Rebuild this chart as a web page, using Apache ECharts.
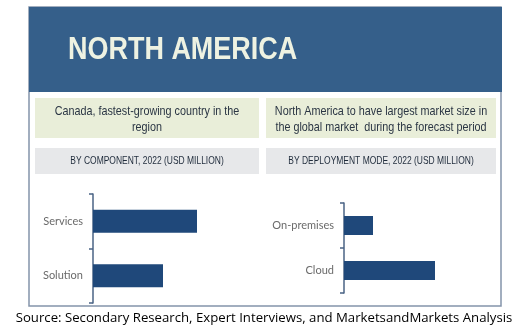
<!DOCTYPE html>
<html><head><meta charset="utf-8">
<script src="https://cdn.jsdelivr.net/npm/echarts@6/dist/echarts.min.js"></script>
<style>html,body{margin:0;padding:0;background:#fff}#c{width:520px;height:330px}</style>
</head><body><div id="c"></div>
<script>
const title = 'NORTH AMERICA';
const noteLeft = 'Canada, fastest-growing country in the\nregion';
const noteRight = 'North America to have largest market size in\nthe global market  during the forecast period';
const headLeft = 'BY COMPONENT, 2022 (USD MILLION)';
const headRight = 'BY DEPLOYMENT MODE, 2022 (USD MILLION)';
const componentCats = ['Services', 'Solution'];
const componentVals = [41.6, 28];
const deployCats = ['On-premises', 'Cloud'];
const deployVals = [11.6, 36.4];
const source = 'Source: Secondary Research, Expert Interviews, and MarketsandMarkets Analysis';

const chart = echarts.init(document.getElementById('c'), null, {renderer:'canvas'});
const sans = '"Liberation Sans", Arial, sans-serif';
const axisCol = '#4a6385';
const barCol = '#1f487a';
function yAx(idx, cats){
  return {type:'category', gridIndex:idx, data:cats, inverse:true,
    axisLine:{show:true, lineStyle:{color:axisCol, width:1.5}},
    axisTick:{show:true, length:4, lineStyle:{color:axisCol, width:1.5}},
    axisLabel:{color:'#6a6a6a', fontSize:11, fontFamily:'Lato, sans-serif', margin:10}};
}
function xAx(idx){
  return {type:'value', gridIndex:idx, min:0, max:60, show:false, splitLine:{show:false}};
}
chart.setOption({
  animation:false,
  grid:[{left:93, top:194, width:150, height:109},{left:344, top:203, width:150, height:90}],
  xAxis:[xAx(0), xAx(1)],
  yAxis:[yAx(0, componentCats), yAx(1, deployCats)],
  series:[
    {type:'bar', xAxisIndex:0, yAxisIndex:0, data:componentVals, barWidth:23, itemStyle:{color:barCol}},
    {type:'bar', xAxisIndex:1, yAxisIndex:1, data:deployVals, barWidth:19, itemStyle:{color:barCol}}
  ],
  graphic:[
    {type:'rect', z:-1, shape:{x:29, y:7, width:472, height:299}, style:{fill:'#fff', stroke:'#8494ab', lineWidth:1.5}},
    {type:'rect', z:0, shape:{x:29, y:7, width:473, height:85}, style:{fill:'#355f8a'}},
    {type:'text', z:1, x:68, y:50, scaleX:0.87, style:{text:title, fill:'#eef2e2', font:'bold 31px '+sans, verticalAlign:'middle'}},
    {type:'rect', shape:{x:35, y:98, width:224, height:40}, style:{fill:'#e9eed9'}},
    {type:'rect', shape:{x:266, y:98, width:230, height:40}, style:{fill:'#e9eed9'}},
    {type:'rect', shape:{x:35, y:148, width:224, height:26}, style:{fill:'#e7e8ea'}},
    {type:'rect', shape:{x:266, y:148, width:230, height:26}, style:{fill:'#e7e8ea'}},
    {type:'text', z:2, x:147, y:119, scaleX:0.83, style:{text:noteLeft, fill:'#2b3644', font:'13px '+sans, align:'center', verticalAlign:'middle', lineHeight:16}},
    {type:'text', z:2, x:381, y:119, scaleX:0.83, style:{text:noteRight, fill:'#2b3644', font:'13px '+sans, align:'center', verticalAlign:'middle', lineHeight:16}},
    {type:'text', z:2, x:147, y:161, scaleX:0.77, style:{text:headLeft, fill:'#1f2b3b', font:'11px '+sans, align:'center', verticalAlign:'middle'}},
    {type:'text', z:2, x:381, y:161, scaleX:0.77, style:{text:headRight, fill:'#1f2b3b', font:'11px '+sans, align:'center', verticalAlign:'middle'}},
    {type:'text', z:2, x:264, y:318, style:{text:source, fill:'#000', font:'13.2px "Open Sans", sans-serif', align:'center', verticalAlign:'middle'}}
  ]
});
</script></body></html>
